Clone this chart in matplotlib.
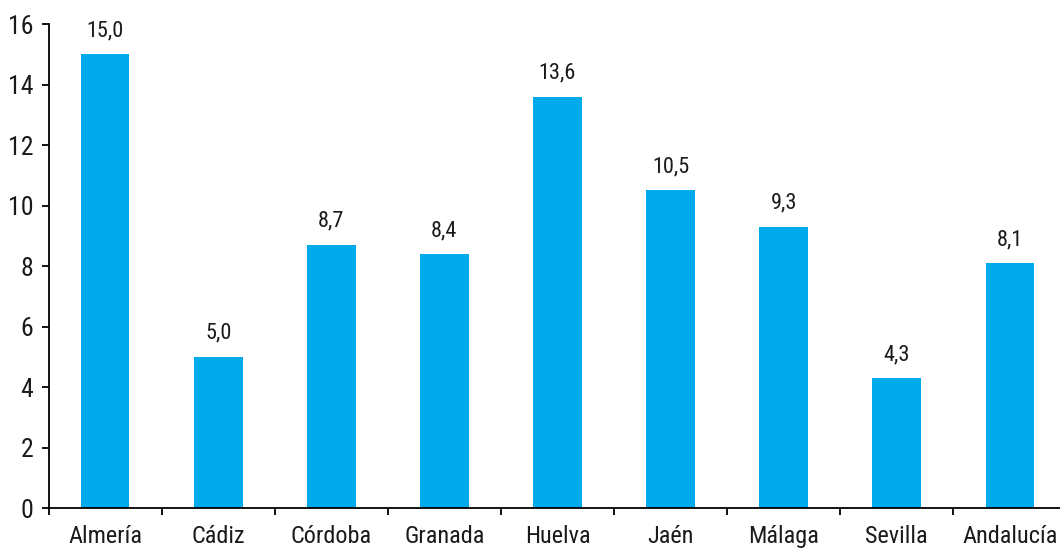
import matplotlib
matplotlib.use("Agg")
import matplotlib.pyplot as plt
from matplotlib import font_manager
import numpy as np

categories = ["Almería", "Cádiz", "Córdoba", "Granada", "Huelva", "Jaén", "Málaga", "Sevilla", "Andalucía"]
values = [15.0, 5.0, 8.7, 8.4, 13.6, 10.5, 9.3, 4.3, 8.1]
yticks = [0, 2, 4, 6, 8, 10, 12, 14, 16]

# prefer a narrow/condensed sans if one is installed
names = sorted({f.name for f in font_manager.fontManager.ttflist})
preferred = ['Liberation Sans Narrow', 'Arial Narrow', 'Roboto Condensed']
narrow = [n for n in preferred if n in names]
narrow += [n for n in names if ("Narrow" in n or "Condensed" in n) and "Mono" not in n and n not in narrow]
family = narrow[:1] + ['Liberation Sans', 'DejaVu Sans']
plt.rcParams['font.family'] = family
condensed_ok = bool(narrow)

fig = plt.figure(figsize=(10.6, 5.5), dpi=100)
ax = fig.add_axes([48.6 / 1060, 41.7 / 550, 1017.8 / 1060, 484.3 / 550])

x = np.arange(len(categories))
ax.bar(x, values, width=0.43, color="#00AAEB", zorder=2)

lab_size = 16 if condensed_ok else 14
for xi, v in zip(x, values):
    ax.annotate(f"{v:.1f}".replace(".", ","), (xi, v), xytext=(0, 13),
                textcoords="offset points", ha="center", va="baseline",
                fontsize=lab_size, color="#1a1a1a")

ax.set_xlim(-0.5, len(categories) - 0.5)
ax.set_ylim(0, 16)
ax.set_yticks(yticks)
ax.set_yticklabels([str(t) for t in yticks])
ax.set_xticks(x)
ax.set_xticklabels(categories)
ax.set_xticks(np.arange(-0.5, len(categories) + 0.5, 1), minor=True)

ax.tick_params(axis="x", which="major", length=0, pad=12, labelsize=17.5, labelcolor="#1a1a1a")
ax.tick_params(axis="x", which="minor", length=5, width=1.3, direction="out", color="black")
ax.tick_params(axis="y", which="major", length=5, width=1.3, direction="out", pad=6,
               labelsize=18.5, labelcolor="#1a1a1a", color="black")

for s in ["top", "right"]:
    ax.spines[s].set_visible(False)
for s in ["left", "bottom"]:
    ax.spines[s].set_linewidth(1.3)
    ax.spines[s].set_color("black")

fig.savefig("out.png", dpi=100)
